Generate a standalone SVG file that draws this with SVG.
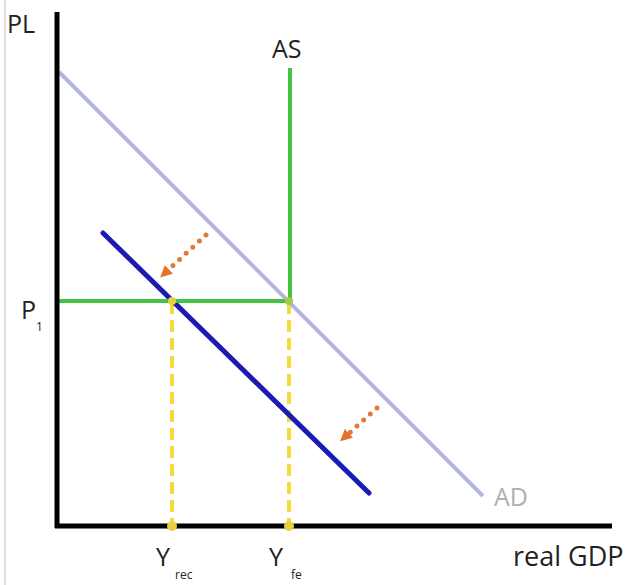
<svg xmlns="http://www.w3.org/2000/svg" width="638" height="585" viewBox="0 0 638 585">
<style>
text{font-family:"Open Sans","DejaVu Sans",sans-serif;fill:#222}
.lbl{font-size:25px}
.sub{font-size:12px}
.axis{stroke:#000;stroke-width:5;fill:none}
.dash{stroke:#f2dc3a;stroke-width:4;stroke-dasharray:12,6;fill:none}
.dot{stroke:#e07a3a;stroke-width:5;stroke-linecap:round;stroke-dasharray:0,9;fill:none}
</style>
<defs>
<marker id="ah" markerWidth="14" markerHeight="14" refX="4" refY="7" orient="auto" markerUnits="userSpaceOnUse">
<path d="M0,1 L12,7 L0,13 z" fill="#e8702a"/>
</marker>
</defs>
<rect width="638" height="585" fill="#fff"/>
<line x1="5" y1="0" x2="5" y2="585" stroke="#bbb" stroke-width="1"/>
<g id="connectors">
<line class="dash" x1="172" y1="302" x2="172" y2="524"/>
<line class="dash" x1="289" y1="302" x2="289" y2="524"/>
<line id="AD" x1="59" y1="72" x2="483" y2="496" stroke="#b4b4e0" stroke-width="4"/>
<line id="AD2" x1="103" y1="233" x2="369" y2="493" stroke="#1a1ab4" stroke-width="5" stroke-linecap="round"/>
<polyline points="57,301 290,301 290,68" stroke="#44c444" stroke-width="4" fill="none"/>
<path class="dot" d="M206,235 L166,272" marker-end="url(#ah)"/>
<path class="dot" d="M377,408 L346,436" marker-end="url(#ah)"/>
<circle cx="172" cy="301" r="4" fill="#e8d040"/>
<circle cx="289" cy="301" r="4" fill="#a8c840"/>
</g>
<g id="axes">
<line class="axis" x1="57" y1="12" x2="57" y2="528"/>
<line class="axis" x1="55" y1="526" x2="612" y2="526"/>
<circle cx="172" cy="526" r="5" fill="#e8d040"/>
<circle cx="289" cy="526" r="5" fill="#e8d040"/>
</g>
<g id="labels">
<text class="lbl" x="7" y="33">PL</text>
<text class="lbl" x="272" y="58">AS</text>
<text class="lbl" x="21" y="319">P</text>
<text class="sub" x="36" y="331">1</text>
<text class="lbl" x="494" y="506" style="fill:#b0b0b0">AD</text>
<text class="lbl" x="156" y="566">Y</text>
<text class="sub" x="175" y="579">rec</text>
<text class="lbl" x="269" y="566">Y</text>
<text class="sub" x="291" y="579">fe</text>
<text class="lbl" x="513" y="566" style="font-size:27px">real GDP</text>
</g>
</svg>
